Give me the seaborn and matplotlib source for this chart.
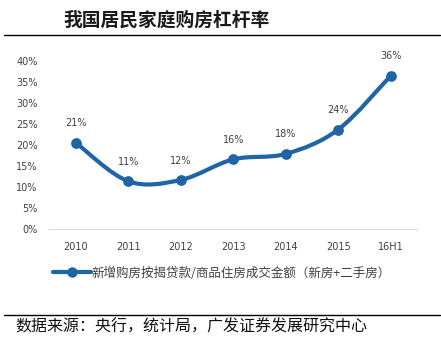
import numpy as np
import pandas as pd
import seaborn as sns
import matplotlib
matplotlib.use("Agg")
import matplotlib.pyplot as plt
from matplotlib.path import Path
from matplotlib.patches import PathPatch
from matplotlib.lines import Line2D

# ---- data ----
years = ["2010", "2011", "2012", "2013", "2014", "2015", "16H1"]
leverage = [20.6, 11.4, 11.7, 16.6, 17.9, 23.7, 36.5]
labels = ["21%", "11%", "12%", "16%", "18%", "24%", "36%"]
yticks = [0, 5, 10, 15, 20, 25, 30, 35, 40]
title = "我国居民家庭购房杠杆率"
series_name = "新增购房按揭贷款/商品住房成交金额（新房+二手房）"
source = "数据来源：央行，统计局，广发证券发展研究中心"

sns.set_theme(style="white")
plt.rcParams["font.family"] = ["Noto Sans CJK SC", "DejaVu Sans"]

color = "#1F65A6"
txt = "#404040"

fig = plt.figure(figsize=(4.41, 3.42), dpi=100)
ax = fig.add_axes([0.112, 0.330, 0.8336, 0.4916])

df = pd.DataFrame({"year": years, "v": leverage})
df["x"] = np.arange(len(df))

# markers through seaborn
sns.scatterplot(data=df, x="x", y="v", ax=ax, color=color, s=60,
                edgecolor=color, linewidth=0, zorder=4, legend=False)

# smooth curve (Bezier path through the data points)
P = df[["x", "v"]].to_numpy(dtype=float)
n = len(P)
verts = [tuple(P[0])]
codes = [Path.MOVETO]
for i in range(n - 1):
    p0 = P[i - 1] if i > 0 else P[i]
    p1 = P[i]
    p2 = P[i + 1]
    p3 = P[i + 2] if i + 2 < n else P[i + 1]
    c1 = p1 + (p2 - p0) / 6.0
    c2 = p2 - (p3 - p1) / 6.0
    verts += [tuple(c1), tuple(c2), tuple(p2)]
    codes += [Path.CURVE4] * 3
ax.add_patch(PathPatch(Path(verts, codes), facecolor="none", edgecolor=color,
                       lw=3.0, capstyle="round", joinstyle="round", zorder=3))

for xi, yi, lab in zip(df["x"], df["v"], labels):
    ax.annotate(lab, (xi, yi), xytext=(0, 14), textcoords="offset points",
                ha="center", va="center", fontsize=7, color=txt,
                family=["DejaVu Sans"])

ax.set_xlim(-0.5, n - 0.5)
ax.set_ylim(0, 40)
ax.set_xticks(df["x"])
ax.set_xticklabels(years)
ax.set_yticks(yticks)
ax.set_yticklabels([f"{t}%" for t in yticks])
ax.tick_params(axis="both", length=0, labelsize=7, labelcolor=txt)
ax.tick_params(axis="x", pad=9)
ax.tick_params(axis="y", pad=8.5)
for lab in ax.get_xticklabels() + ax.get_yticklabels():
    lab.set_family(["DejaVu Sans"])
ax.set_xlabel("")
ax.set_ylabel("")
for s in ["top", "right", "left"]:
    ax.spines[s].set_visible(False)
ax.spines["bottom"].set_color("#D9D9D9")
ax.spines["bottom"].set_linewidth(0.8)

# legend
handle = Line2D([0], [0], color=color, lw=3.0, marker="o", markersize=6.5)
fig.legend([handle], [series_name], loc="center left",
           bbox_to_anchor=(53 / 441, 1 - 273 / 342), frameon=False,
           fontsize=9, handlelength=3.0, handletextpad=0.1,
           labelcolor=txt, borderaxespad=0, borderpad=0)

# title and rules
fig.text(63 / 441, 1 - 20 / 342, title, fontsize=13.5, fontweight="bold",
         color="#1a1a1a", ha="left", va="center")
fig.add_artist(Line2D([4 / 441, 440 / 441], [1 - 35 / 342, 1 - 35 / 342],
                      color="black", lw=1.0))
fig.add_artist(Line2D([4 / 441, 440 / 441], [1 - 315 / 342, 1 - 315 / 342],
                      color="black", lw=1.0))
fig.text(15 / 441, 1 - 327 / 342, source, fontsize=11.5, color="#111111",
         ha="left", va="center")

fig.savefig("out.png", dpi=100)
